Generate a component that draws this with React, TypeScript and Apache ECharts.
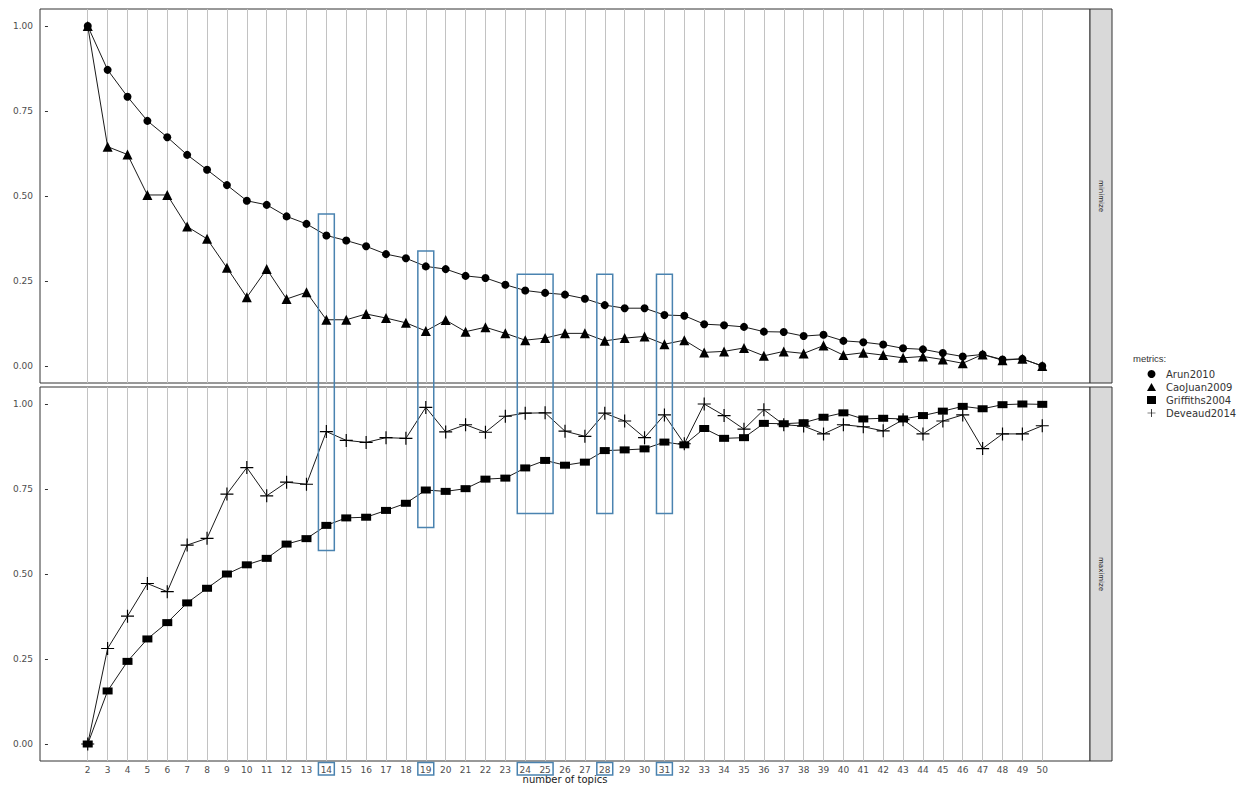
import React, { useEffect, useRef } from "react";
import * as echarts from "echarts";

// number of topics on the x axis
const topics = [
  2, 3, 4, 5, 6, 7, 8, 9, 10, 11,
  12, 13, 14, 15, 16, 17, 18, 19, 20, 21,
  22, 23, 24, 25, 26, 27, 28, 29, 30, 31,
  32, 33, 34, 35, 36, 37, 38, 39, 40, 41,
  42, 43, 44, 45, 46, 47, 48, 49, 50,
];

// "minimize" metrics (normalised)
const arun2010 = [
  1.0, 0.871, 0.792, 0.721, 0.673, 0.621, 0.577, 0.532, 0.486, 0.474,
  0.44, 0.418, 0.384, 0.369, 0.352, 0.329, 0.317, 0.293, 0.285, 0.265,
  0.259, 0.239, 0.222, 0.215, 0.21, 0.198, 0.179, 0.17, 0.17, 0.15,
  0.148, 0.123, 0.12, 0.115, 0.101, 0.1, 0.088, 0.092, 0.074, 0.07,
  0.063, 0.052, 0.049, 0.038, 0.028, 0.034, 0.019, 0.021, 0.0,
];
const caoJuan2009 = [
  1.0, 0.645, 0.622, 0.503, 0.503, 0.41, 0.374, 0.289, 0.202, 0.285,
  0.197, 0.217, 0.136, 0.136, 0.153, 0.141, 0.127, 0.103, 0.135, 0.101,
  0.114, 0.096, 0.076, 0.082, 0.096, 0.096, 0.074, 0.082, 0.087, 0.064,
  0.076, 0.04, 0.043, 0.053, 0.03, 0.043, 0.037, 0.06, 0.032, 0.039,
  0.032, 0.024, 0.028, 0.019, 0.008, 0.034, 0.017, 0.021, 0.0,
];

// "maximize" metrics (normalised)
const griffiths2004 = [
  0.0, 0.156, 0.243, 0.309, 0.357, 0.415, 0.458, 0.5, 0.527, 0.546,
  0.588, 0.604, 0.643, 0.665, 0.667, 0.687, 0.708, 0.747, 0.743, 0.751,
  0.779, 0.782, 0.812, 0.834, 0.82, 0.829, 0.863, 0.865, 0.868, 0.888,
  0.88, 0.928, 0.899, 0.901, 0.943, 0.942, 0.945, 0.961, 0.974, 0.956,
  0.958, 0.956, 0.966, 0.979, 0.993, 0.986, 0.998, 1.0, 0.999,
];
const deveaud2014 = [
  0.0, 0.281, 0.376, 0.472, 0.448, 0.585, 0.605, 0.735, 0.813, 0.73,
  0.77, 0.764, 0.919, 0.893, 0.887, 0.901, 0.899, 0.99, 0.918, 0.939,
  0.917, 0.964, 0.973, 0.974, 0.92, 0.905, 0.973, 0.95, 0.901, 0.968,
  0.883, 1.0, 0.966, 0.926, 0.983, 0.939, 0.935, 0.912, 0.939, 0.933,
  0.921, 0.954, 0.912, 0.95, 0.968, 0.869, 0.912, 0.912, 0.936,
];

const yTicks = [0, 0.25, 0.5, 0.75, 1];
const panelNames = ["minimize", "maximize"];
const legendTitle = "metrics:";
const xTitle = "number of topics";

// candidate topic counts marked with boxes: x span in topics,
// top edge on the minimize scale, bottom edge on the maximize scale
const highlightFrom = [14, 19, 24, 28, 31];
const highlightTo = [14, 19, 25, 28, 31];
const highlightTop = [0.447, 0.338, 0.27, 0.27, 0.27];
const highlightBottom = [0.569, 0.637, 0.678, 0.678, 0.678];

// layout
const W = 1245;
const H = 785;
const GRID_LEFT = 40;
const GRID_WIDTH = 1050;
const TOP_Y = 9;
const PANEL_H = 374;
const PANEL_GAP = 4;
const STRIP_W = 22;
const X_MIN = 2 - 0.05 * 48;
const X_MAX = 50 + 0.05 * 48;
const Y_MIN = -0.05;
const Y_MAX = 1.05;
const BOX_COLOR = "#4A83B0";
const FONT = "DejaVu Sans";

const plusPath =
  "path://M0,4.55 L10,4.55 L10,5.45 L0,5.45 Z M4.55,0 L5.45,0 L5.45,10 L4.55,10 Z";

const pairs = (vals: number[]) => topics.map((t, i) => [t, vals[i]]);

export default function App() {
  const ref = useRef<HTMLDivElement>(null);

  useEffect(() => {
    if (!ref.current) return;
    const chart = echarts.init(ref.current, null, { renderer: "svg" });

    const grids = [0, 1].map((i) => ({
      left: GRID_LEFT,
      top: TOP_Y + i * (PANEL_H + PANEL_GAP),
      width: GRID_WIDTH,
      height: PANEL_H,
      show: true,
      borderColor: "#333333",
      borderWidth: 1,
      backgroundColor: "#ffffff",
      outerBoundsMode: "none",
      containLabel: false,
    }));

    const xAxes = [0, 1].map((i) => ({
      type: "value",
      gridIndex: i,
      min: X_MIN,
      max: X_MAX,
      axisLine: { show: false },
      splitLine: { show: false },
      axisTick: {
        show: i === 1,
        customValues: topics,
        length: 3,
        lineStyle: { color: "#333333", width: 1 },
      },
      axisLabel: {
        show: i === 1,
        customValues: topics,
        margin: 4,
        fontSize: 9,
        fontFamily: FONT,
        color: "#4D4D4D",
      },
      name: i === 1 ? xTitle : "",
      nameLocation: "middle",
      nameGap: 13,
      nameMoveOverlap: false,
      nameTextStyle: {
        fontSize: 10,
        fontFamily: FONT,
        color: "#1A1A1A",
        verticalAlign: "top",
        lineHeight: 11,
      },
    }));

    const yAxes = [0, 1].map((i) => ({
      type: "value",
      gridIndex: i,
      min: Y_MIN,
      max: Y_MAX,
      axisLine: { show: false },
      splitLine: { show: false },
      axisTick: {
        show: true,
        customValues: yTicks,
        length: 3,
        lineStyle: { color: "#333333", width: 1 },
      },
      axisLabel: {
        customValues: yTicks,
        formatter: (v: number) => v.toFixed(2),
        margin: 7,
        fontSize: 9,
        fontFamily: FONT,
        color: "#4D4D4D",
      },
    }));

    const gridLines = [0, 1].map((i) => ({
      type: "line",
      name: "vgrid" + i,
      xAxisIndex: i,
      yAxisIndex: i,
      data: [],
      z: 1,
      silent: true,
      markLine: {
        z: 1,
        silent: true,
        symbol: ["none", "none"],
        label: { show: false },
        emphasis: { disabled: true },
        animation: false,
        lineStyle: { color: "#C2C2C2", width: 1, type: "solid" },
        data: topics.map((t) => ({ xAxis: t })),
      },
    }));

    const lineSeries = (
      name: string,
      vals: number[],
      panel: number,
      symbol: string,
      symbolSize: number | number[]
    ) => ({
      type: "line",
      name,
      xAxisIndex: panel,
      yAxisIndex: panel,
      data: pairs(vals),
      symbol,
      symbolSize,
      showAllSymbol: true,
      z: 3,
      silent: true,
      lineStyle: { color: "#1A1A1A", width: 1 },
      itemStyle: { color: "#000000" },
      emphasis: { disabled: true },
    });

    chart.setOption({
      animation: false,
      backgroundColor: "#ffffff",
      grid: grids,
      xAxis: xAxes,
      yAxis: yAxes,
      legend: {
        orient: "vertical",
        left: 1142,
        top: 364,
        itemWidth: 9,
        itemHeight: 8,
        itemGap: 3,
        selectedMode: false,
        textStyle: {
          fontSize: 10,
          fontFamily: FONT,
          color: "#333333",
          padding: [0, 0, 0, 5],
        },
        data: [
          { name: "Arun2010", icon: "circle" },
          { name: "CaoJuan2009", icon: "triangle" },
          { name: "Griffiths2004", icon: "rect" },
          { name: "Deveaud2014", icon: plusPath },
        ],
      },
      series: [
        ...gridLines,
        lineSeries("Arun2010", arun2010, 0, "circle", 8),
        lineSeries("CaoJuan2009", caoJuan2009, 0, "triangle", 10),
        lineSeries("Griffiths2004", griffiths2004, 1, "rect", [10, 7]),
        lineSeries("Deveaud2014", deveaud2014, 1, plusPath, 13),
      ],
    });

    // strips, legend title and candidate boxes
    const graphics: any[] = [];
    panelNames.forEach((label, i) => {
      const top = TOP_Y + i * (PANEL_H + PANEL_GAP);
      graphics.push({
        type: "rect",
        shape: { x: GRID_LEFT + GRID_WIDTH, y: top, width: STRIP_W, height: PANEL_H },
        style: { fill: "#D9D9D9", stroke: "#333333", lineWidth: 1 },
        silent: true,
      });
      graphics.push({
        type: "text",
        x: GRID_LEFT + GRID_WIDTH + STRIP_W / 2,
        y: top + PANEL_H / 2,
        rotation: -Math.PI / 2,
        style: {
          text: label,
          fontSize: 7,
          fontFamily: FONT,
          fill: "#1A1A1A",
          align: "center",
          verticalAlign: "middle",
        },
        silent: true,
      });
    });
    graphics.push({
      type: "text",
      x: 1133,
      y: 358,
      style: {
        text: legendTitle,
        fontSize: 9.5,
        fontFamily: "Liberation Sans",
        fill: "#333333",
        align: "left",
        verticalAlign: "middle",
      },
      silent: true,
    });

    const axisBottom = chart.convertToPixel({ gridIndex: 1 } as any, [0, Y_MIN])[1];
    highlightFrom.forEach((from, k) => {
      const x0 = chart.convertToPixel({ gridIndex: 0 } as any, [from - 0.4, 0])[0];
      const x1 = chart.convertToPixel({ gridIndex: 0 } as any, [highlightTo[k] + 0.4, 0])[0];
      const y0 = chart.convertToPixel({ gridIndex: 0 } as any, [from, highlightTop[k]])[1];
      const y1 = chart.convertToPixel({ gridIndex: 1 } as any, [from, highlightBottom[k]])[1];
      graphics.push({
        type: "rect",
        z: 10,
        shape: { x: x0, y: y0, width: x1 - x0, height: y1 - y0 },
        style: { fill: "none", stroke: BOX_COLOR, lineWidth: 1.5 },
        silent: true,
      });
      graphics.push({
        type: "rect",
        z: 10,
        shape: { x: x0, y: axisBottom + 1.5, width: x1 - x0, height: 12.5 },
        style: { fill: "none", stroke: BOX_COLOR, lineWidth: 1.5 },
        silent: true,
      });
    });

    chart.setOption({ graphic: graphics });

    return () => chart.dispose();
  }, []);

  return (
    <div
      ref={ref}
      style={{ position: "absolute", left: 0, top: 0, width: W, height: H, background: "#fff" }}
    />
  );
}
